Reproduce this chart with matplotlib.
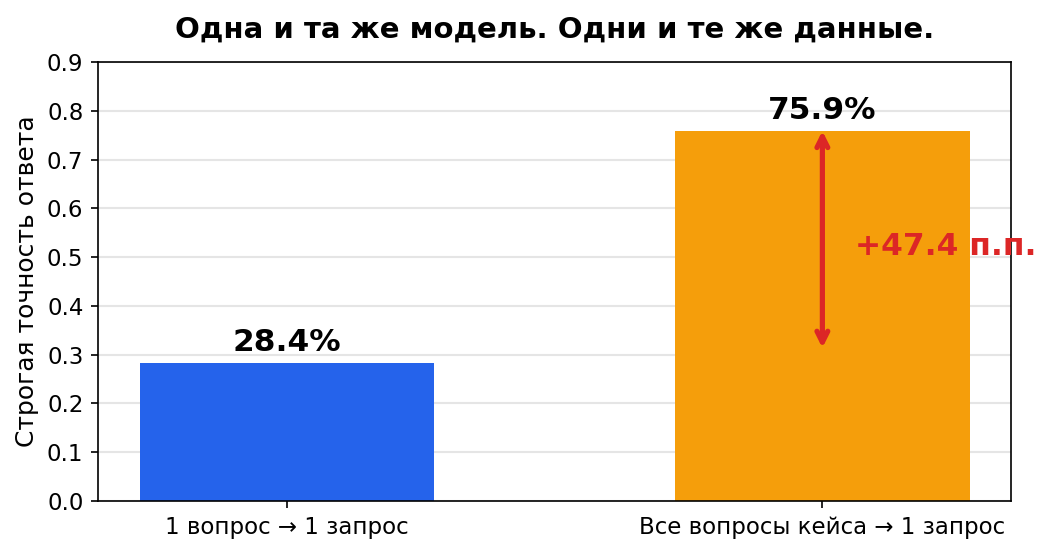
import matplotlib.pyplot as plt

categories = ["1 вопрос → 1 запрос", "Все вопросы кейса → 1 запрос"]
accuracy = [0.284, 0.759]
bar_colors = ["#2563eb", "#f59e0b"]
value_labels = ["28.4%", "75.9%"]
delta_label = "+47.4 п.п."

fig, ax = plt.subplots(figsize=(7, 3.7), dpi=150)
fig.subplots_adjust(left=0.0934, right=0.963, top=0.888, bottom=0.0973)

x = range(len(categories))
ax.bar(x, accuracy, width=0.55, color=bar_colors, zorder=2)
ax.set_xticks(list(x))
ax.set_xticklabels(categories, fontsize=11)
ax.set_ylim(0, 0.9)
ax.set_yticks([i / 10 for i in range(10)])
ax.tick_params(axis="y", labelsize=11)
ax.yaxis.grid(True, color="#e5e5e5", linewidth=1, zorder=0)
ax.set_axisbelow(True)
ax.set_ylabel("Строгая точность ответа", fontsize=12)
ax.set_title("Одна и та же модель. Одни и те же данные.", fontsize=14,
             fontweight="bold", pad=12)

for i, v in enumerate(accuracy):
    ax.text(i, v + 0.012, value_labels[i], ha="center", va="bottom",
            fontsize=15, fontweight="bold")

ax.annotate("", xy=(1, accuracy[1]), xytext=(1, accuracy[0] + 0.03),
            arrowprops=dict(arrowstyle="<->", color="#dc2626", lw=2.5,
                            mutation_scale=13, shrinkA=0, shrinkB=0))
ax.text(1.06, (accuracy[0] + accuracy[1]) / 2, delta_label, ha="left",
        va="center", fontsize=15, fontweight="bold", color="#dc2626",
        clip_on=False)

fig.savefig("out.png")
